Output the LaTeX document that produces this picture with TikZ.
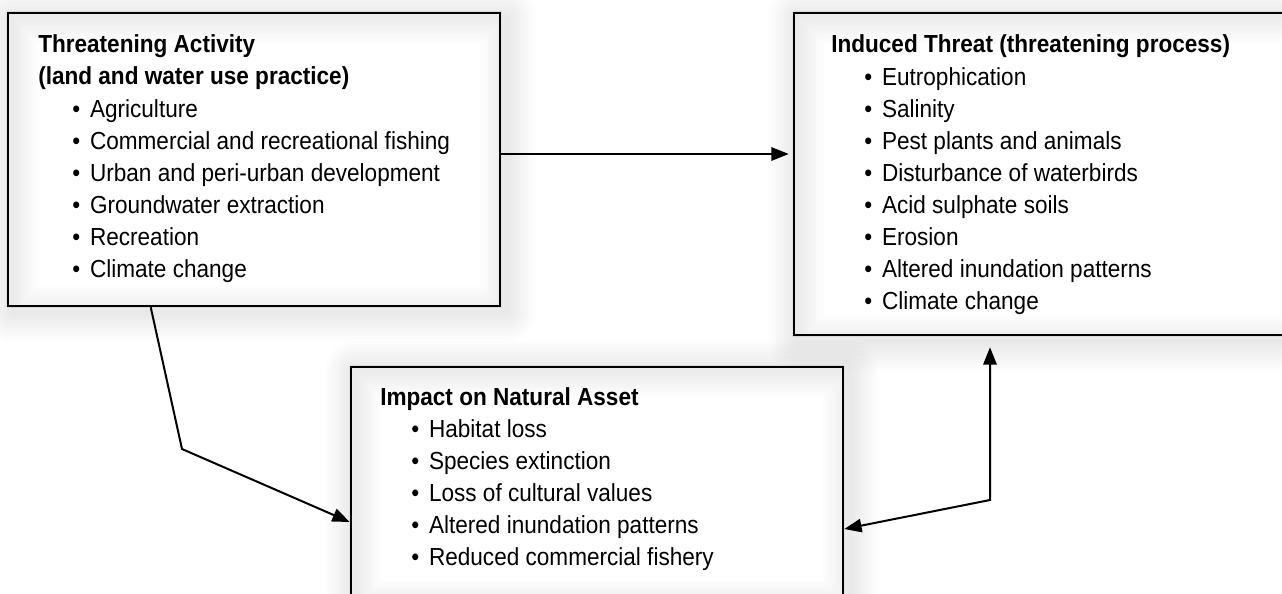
\documentclass[tikz,border=0pt]{standalone}
\usepackage{fontspec}
\setmainfont{Liberation Sans}[FakeStretch=0.915]
\usetikzlibrary{positioning,arrows.meta,fit,calc,backgrounds}

\begin{document}
\begin{tikzpicture}[
  x=0.75pt, y=-0.75pt,
  every node/.style={font=\fontsize{18.5}{24}\selectfont, inner sep=0pt},
  panel/.style={draw=black, line width=1.9pt, fill=white, inner sep=0pt},
  glow/.style={draw=black, draw opacity=.006, line join=round},
  heading/.style={anchor=base west, font=\fontsize{18.5}{24}\selectfont\bfseries},
  item/.style={anchor=base west},
  arr/.style={-{Triangle[length=13pt,width=10pt]}, line width=1.5pt},
  twoway/.style={{Triangle[length=13pt,width=10pt]}-{Triangle[length=13pt,width=10pt]}, line width=1.5pt}
]
  \useasboundingbox (0,0) rectangle (1282,593);

  \node[panel, fit={(8,13) (500,306)}] (activity) {};
  \node[panel, fit={(794,13) (1300,335)}] (threat) {};
  \node[panel, fit={(351,367) (843,600)}] (impact) {};

  \foreach \b in {activity,threat,impact}{
    \begin{scope}[on background layer]
      \foreach \w in {4,8,...,44}
        \draw[glow, line width=\w*1pt] ($(\b.north west)+(5,5)$) rectangle ($(\b.south east)+(5,5)$);
    \end{scope}
    \begin{scope}
      \clip (\b.north west) rectangle (\b.south east);
      \foreach \w in {4,8,...,40}
        \draw[glow, line width=\w*1pt] ($(\b.north west)+(5,5)$) rectangle ($(\b.south east)+(5,5)$);
    \end{scope}
  }

  \node[heading] (activity-title) at (38,52) {Threatening Activity};
  \node[heading] (activity-subtitle) at (38,84) {(land and water use practice)};
  \foreach \t [count=\i] in {Agriculture, Commercial and recreational fishing,
      Urban and peri-urban development, Groundwater extraction, Recreation, Climate change}
    \node[item] (activity-\i) at (72,{117+32*(\i-1)}) {\textbullet\hspace{.4em}\t};

  \node[heading] (threat-title) at (831,52) {Induced Threat (threatening process)};
  \foreach \t [count=\i] in {Eutrophication, Salinity, Pest plants and animals,
      Disturbance of waterbirds, Acid sulphate soils, Erosion, Altered inundation patterns, Climate change}
    \node[item] (threat-\i) at (864,{85+32*(\i-1)}) {\textbullet\hspace{.4em}\t};

  \node[heading] (impact-title) at (380,405) {Impact on Natural Asset};
  \foreach \t [count=\i] in {Habitat loss, Species extinction, Loss of cultural values,
      Altered inundation patterns, Reduced commercial fishery}
    \node[item] (impact-\i) at (411,{437+32*(\i-1)}) {\textbullet\hspace{.4em}\t};

  \coordinate (kink) at (182,449);
  \coordinate (elbow) at (990,500);

  \draw[arr, shorten >=3pt] ($(activity.east)+(0,-5.5)$) -- ($(activity.east -| threat.west)+(0,-5.5)$);
  \draw[arr] ($(activity.south west)+(144,0)$) -- (kink) -- ($(impact.west)+(0,38.5)$);
  \draw[twoway] ($(impact.east)+(0,45.5)$) -- (elbow) -- ($(elbow |- threat.south)+(0,11)$);
\end{tikzpicture}
\end{document}
